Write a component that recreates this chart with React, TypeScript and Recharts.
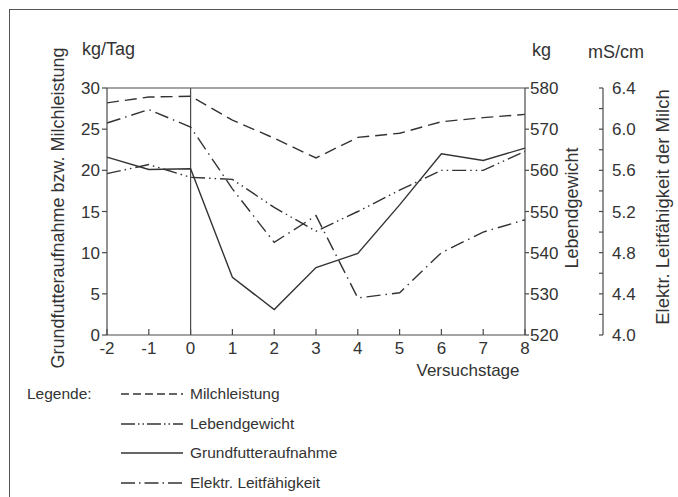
import React from 'react';
import { LineChart, Line, XAxis, YAxis, ReferenceLine, Legend } from 'recharts';

// ---- data ----
const DAYS = [-2, -1, 0, 1, 2, 3, 4, 5, 6, 7, 8];
const MILCHLEISTUNG = [28.2, 28.9, 29.0, 26.1, 23.9, 21.5, 24.0, 24.5, 25.9, 26.4, 26.8]; // kg/Tag
const LEBENDGEWICHT = [559.2, 561.4, 558.3, 557.8, 551.0, 545.2, 550.0, 555.2, 560.0, 560.0, 564.6]; // kg
const GRUNDFUTTERAUFNAHME = [21.6, 20.1, 20.2, 7.0, 3.1, 8.2, 9.9, 15.8, 22.0, 21.2, 22.7]; // kg/Tag
const LEITFAEHIGKEIT = [6.06, 6.19, 6.02, 5.42, 4.9, 5.16, 4.36, 4.41, 4.8, 5.0, 5.12]; // mS/cm

const LEFT_TICKS = [0, 5, 10, 15, 20, 25, 30];
const KG_TICKS = [520, 530, 540, 550, 560, 570, 580];
const MS_TICKS = [4.0, 4.2, 4.4, 4.6, 4.8, 5.0, 5.2, 5.4, 5.6, 5.8, 6.0, 6.2, 6.4];
const SERIES_NAMES = ['Milchleistung', 'Lebendgewicht', 'Grundfutteraufnahme', 'Elektr. Leitfähigkeit'];

const data = DAYS.map((d, i) => ({
  day: d,
  milch: MILCHLEISTUNG[i],
  lebend: LEBENDGEWICHT[i],
  grund: GRUNDFUTTERAUFNAHME[i],
  leit: LEITFAEHIGKEIT[i],
}));

// ---- styles ----
const INK = '#333333';
const AXIS = '#4a4a4a';
const FONT = "'Liberation Sans', Arial, sans-serif";

const SERIES = [
  { key: 'milch', name: SERIES_NAMES[0], axis: 'left', dash: '12 6', legendDash: '8 4' },
  { key: 'lebend', name: SERIES_NAMES[1], axis: 'kg', dash: '14 4 1.5 4 1.5 4', legendDash: '14 3 1.5 3 1.5 3' },
  { key: 'grund', name: SERIES_NAMES[2], axis: 'left', dash: undefined as string | undefined, legendDash: undefined as string | undefined },
  { key: 'leit', name: SERIES_NAMES[3], axis: 'ms', dash: '14 5 1.5 5', legendDash: '14 4 1.5 4' },
];

const textStyle = { fontFamily: FONT, fill: INK };

const XTick = (p: any) => {
  const { x, y, payload } = p;
  return (
    <g>
      <line x1={x} y1={y} x2={x} y2={y - 6} stroke={AXIS} strokeWidth={1.2} />
      <text x={x} y={y + 19} textAnchor="middle" fontSize={17} style={textStyle}>
        {payload.value}
      </text>
    </g>
  );
};

const MsTick = (p: any) => {
  const { x, y, payload } = p;
  const v = payload.value as number;
  const major = Math.round(v * 10) % 4 === 0;
  return (
    <g>
      <line x1={x - 4} y1={y} x2={x} y2={y} stroke={AXIS} strokeWidth={1.2} />
      {major && (
        <text x={x + 9} y={y} dy="0.355em" textAnchor="start" fontSize={17} style={textStyle}>
          {v.toFixed(1)}
        </text>
      )}
    </g>
  );
};

const LeftLabel = () => (
  <g>
    <text x={74} y={47} fontSize={18} style={textStyle}>kg/Tag</text>
    <text
      transform="translate(50,200) rotate(-90)"
      textAnchor="middle"
      dominantBaseline="central"
      fontSize={18}
      style={textStyle}
    >
      Grundfutteraufnahme bzw. Milchleistung
    </text>
  </g>
);

const KgLabel = () => (
  <g>
    <text x={524} y={48} fontSize={18} style={textStyle}>kg</text>
    <text
      transform="translate(564,200) rotate(-90)"
      textAnchor="middle"
      dominantBaseline="central"
      fontSize={18}
      style={textStyle}
    >
      Lebendgewicht
    </text>
  </g>
);

const MsLabel = () => (
  <g>
    <text x={580} y={50} fontSize={18} style={textStyle}>mS/cm</text>
    <text
      transform="translate(654,199) rotate(-90)"
      textAnchor="middle"
      dominantBaseline="central"
      fontSize={18.5}
      style={textStyle}
    >
      Elektr. Leitfähigkeit der Milch
    </text>
  </g>
);

const XLabel = () => (
  <text x={460} y={368} textAnchor="middle" fontSize={17} style={textStyle}>
    Versuchstage
  </text>
);

const renderLegend = () => (
  <div style={{ position: 'relative', width: 400, height: 110, fontFamily: FONT, fontSize: 15.5, color: INK }}>
    <span style={{ position: 'absolute', left: 19, top: 16 - 10, lineHeight: '20px' }}>Legende:</span>
    {SERIES.map((s, i) => (
      <div
        key={s.key}
        style={{ position: 'absolute', left: 113, top: 16 + i * 29.7 - 10, height: 20, display: 'flex', alignItems: 'center', whiteSpace: 'nowrap' }}
      >
        <svg width={62} height={20} style={{ display: 'block' }}>
          <line x1={0} y1={10} x2={62} y2={10} stroke={INK} strokeWidth={1.4} strokeDasharray={s.legendDash} />
        </svg>
        <span style={{ marginLeft: 7, lineHeight: '20px' }}>{s.name}</span>
      </div>
    ))}
  </div>
);

export default function App() {
  return (
    <div style={{ position: 'relative', width: 678, height: 497, background: '#fff', overflow: 'hidden' }}>
      <style>{`html,body{margin:0;padding:0;overflow:hidden;background:#fff}`}</style>
      <div
        style={{
          position: 'absolute',
          left: 9,
          top: 9,
          width: 669,
          height: 488,
          borderTop: '1.5px solid #555',
          borderLeft: '1.5px solid #555',
          boxSizing: 'border-box',
          pointerEvents: 'none',
        }}
      />
      <div style={{ position: 'absolute', left: 8, top: 8 }}>
        <LineChart
          width={670}
          height={489}
          data={data}
          margin={{ top: 80, left: 69, right: 25, bottom: 132 }}
        >
          <XAxis
            dataKey="day"
            type="number"
            domain={[-2, 8]}
            ticks={DAYS}
            interval={0}
            tickSize={0}
            tickMargin={0}
            tickLine={false}
            tick={XTick}
            stroke={AXIS}
            strokeWidth={1.2}
            height={30}
            label={XLabel}
          />
          <YAxis
            yAxisId="left"
            orientation="left"
            domain={[0, 30]}
            ticks={LEFT_TICKS}
            interval={0}
            width={30}
            tickSize={5}
            tickMargin={2}
            stroke={AXIS}
            strokeWidth={1.2}
            tick={{ fontSize: 17, fontFamily: FONT, fill: INK }}
            label={LeftLabel}
          />
          <YAxis
            yAxisId="kg"
            orientation="right"
            domain={[520, 580]}
            ticks={KG_TICKS}
            interval={0}
            width={78}
            tickSize={4}
            tickMargin={1}
            stroke={AXIS}
            strokeWidth={1.2}
            tick={{ fontSize: 17, fontFamily: FONT, fill: INK }}
            label={KgLabel}
          />
          <YAxis
            yAxisId="ms"
            orientation="right"
            domain={[4, 6.4]}
            ticks={MS_TICKS}
            interval={0}
            width={50}
            tickSize={0}
            tickMargin={0}
            tickLine={false}
            tick={MsTick}
            stroke={AXIS}
            strokeWidth={1.2}
            label={MsLabel}
          />
          <ReferenceLine yAxisId="left" y={30} stroke={AXIS} strokeWidth={1.2} />
          <ReferenceLine yAxisId="left" x={0} stroke={AXIS} strokeWidth={1.2} />
          {SERIES.map((s) => (
            <Line
              key={s.key}
              yAxisId={s.axis}
              dataKey={s.key}
              name={s.name}
              type="linear"
              stroke={INK}
              strokeWidth={1.4}
              strokeDasharray={s.dash}
              dot={false}
              activeDot={false}
              isAnimationActive={false}
            />
          ))}
          <Legend
            layout="vertical"
            align="center"
            verticalAlign="middle"
            content={renderLegend}
            wrapperStyle={{ left: 0, top: 370, width: 400, height: 110 }}
          />
        </LineChart>
      </div>
    </div>
  );
}
